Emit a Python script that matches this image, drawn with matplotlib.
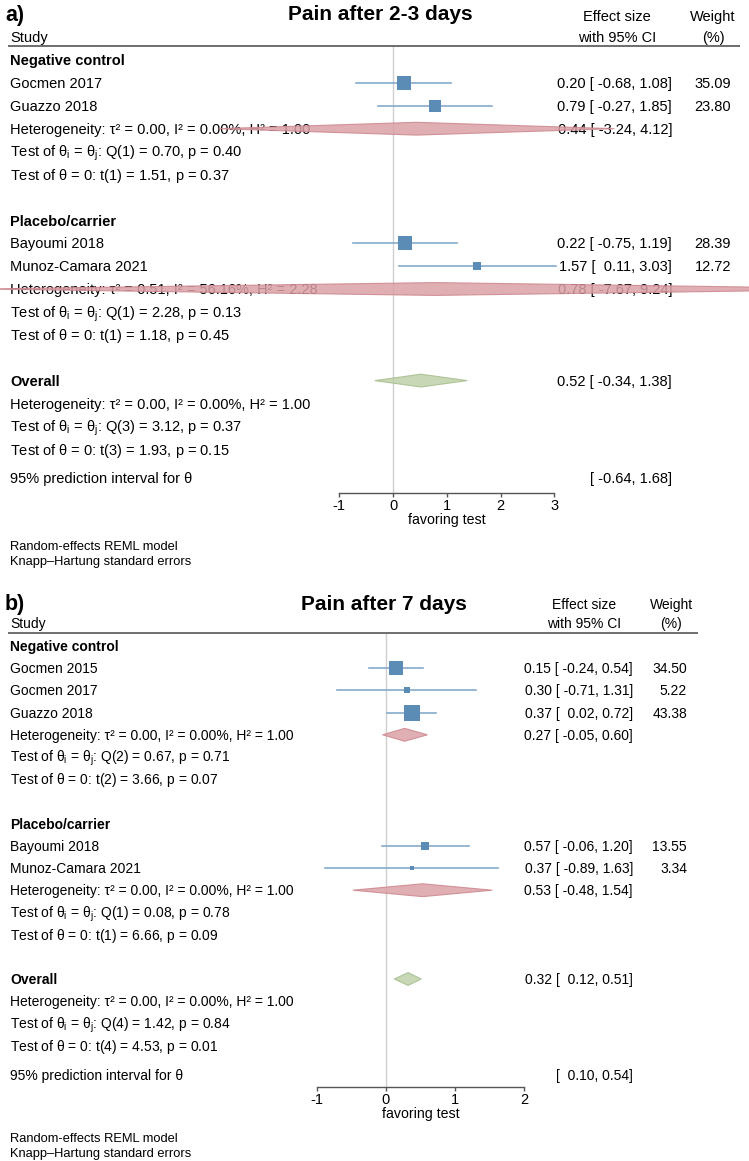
import numpy as np
import matplotlib.pyplot as plt

plt.rcParams['font.family'] = ['Liberation Sans', 'DejaVu Sans']
plt.rcParams['mathtext.fontset'] = 'custom'
plt.rcParams['mathtext.rm'] = 'Liberation Sans'
plt.rcParams['mathtext.it'] = 'Liberation Sans'
plt.rcParams['mathtext.bf'] = 'Liberation Sans:bold'

# ---------------- data: panel a (pain after 2-3 days) ----------------
a_groups = ["Negative control", "Placebo/carrier"]
a_studies = [["Gocmen 2017", "Guazzo 2018"], ["Bayoumi 2018", "Munoz-Camara 2021"]]
a_es = [[0.20, 0.79], [0.22, 1.57]]
a_lo = [[-0.68, -0.27], [-0.75, 0.11]]
a_hi = [[1.08, 1.85], [1.19, 3.03]]
a_wt = [[35.09, 23.80], [28.39, 12.72]]
a_sub_es = [0.44, 0.78]
a_sub_lo = [-3.24, -7.67]
a_sub_hi = [4.12, 9.24]
a_tau2 = [0.00, 0.51, 0.00]          # last = overall
a_i2 = [0.00, 56.16, 0.00]
a_h2 = [1.00, 2.28, 1.00]
a_qdf = [1, 1, 3]
a_q = [0.70, 2.28, 3.12]
a_qp = [0.40, 0.13, 0.37]
a_t = [1.51, 1.18, 1.93]
a_tp = [0.37, 0.45, 0.15]
a_all = [0.52, -0.34, 1.38]
a_pi = [-0.64, 1.68]
a_ticks = [-1, 0, 1, 2, 3]

# ---------------- data: panel b (pain after 7 days) ----------------
b_groups = ["Negative control", "Placebo/carrier"]
b_studies = [["Gocmen 2015", "Gocmen 2017", "Guazzo 2018"], ["Bayoumi 2018", "Munoz-Camara 2021"]]
b_es = [[0.15, 0.30, 0.37], [0.57, 0.37]]
b_lo = [[-0.24, -0.71, 0.02], [-0.06, -0.89]]
b_hi = [[0.54, 1.31, 0.72], [1.20, 1.63]]
b_wt = [[34.50, 5.22, 43.38], [13.55, 3.34]]
b_sub_es = [0.27, 0.53]
b_sub_lo = [-0.05, -0.48]
b_sub_hi = [0.60, 1.54]
b_tau2 = [0.00, 0.00, 0.00]
b_i2 = [0.00, 0.00, 0.00]
b_h2 = [1.00, 1.00, 1.00]
b_qdf = [2, 1, 4]
b_q = [0.67, 0.08, 1.42]
b_qp = [0.71, 0.78, 0.84]
b_t = [3.66, 6.66, 4.53]
b_tp = [0.07, 0.09, 0.01]
b_all = [0.32, 0.12, 0.51]
b_pi = [0.10, 0.54]
b_ticks = [-1, 0, 1, 2]

W, H = 749, 1161
fig = plt.figure(figsize=(W / 100, H / 100), dpi=100)

CI_COL = '#84aacb'
SQ_COL = '#5b8cb6'
RED_FILL, RED_EDGE = '#dba1a7', '#cc868d'
GRN_FILL, GRN_EDGE = '#bfd1a9', '#a6bd8c'


def fmt_ci(lo, hi):
    return f"[{lo:6.2f}, {hi:.2f}]"


def draw_panel(top, bot, lay, tag, title, groups, studies, es, lo, hi, wt,
               sub_es, sub_lo, sub_hi, tau2, i2, h2, qdf, q, qp, t, tp,
               overall, pi, ticks):
    ax = fig.add_axes([0, 1 - bot / H, 1, (bot - top) / H])
    x0, u = lay['zero'], lay['unit']
    r0, rh = lay['row0'], lay['row_h']
    ax.set_xlim(-x0 / u, (W - x0) / u)
    ax.set_ylim((bot - r0) / rh, (top - r0) / rh)
    ax.axis('off')
    row = lambda py: (py - r0) / rh
    tx = ax.get_yaxis_transform()
    fs = lay['fs']
    dh = lay['dh']

    def txt(px, r, s, **kw):
        size = kw.pop('fs', fs)
        ax.text(px / W, r + 0.36 * size * 100 / 72 / rh, s, transform=tx,
                fontsize=size, va='baseline', zorder=3, **kw)

    # header
    txt(5, row(lay['title_y']), tag, fs=15.5, weight='bold')
    txt(lay['title_x'], row(lay['title_y']), title, fs=15, weight='bold', ha='center')
    txt(lay['eff_c'], row(lay['h1_y']), "Effect size", ha='center')
    txt(lay['eff_c'], row(lay['h2_y']), "with 95% CI", ha='center')
    txt(lay['wt_c'], row(lay['h1_y']), "Weight", ha='center')
    txt(lay['wt_c'], row(lay['h2_y']), "(%)", ha='center')
    txt(10, row(lay['h2_y']), "Study")
    ax.plot([8 / W, lay['rule_end'] / W], [row(lay['rule_y'])] * 2, transform=tx,
            color='#555555', lw=1.2, solid_capstyle='butt')
    ax.vlines(0, row(lay['rule_y']), row(lay['axis_y']), color='#cfcfcf', lw=1, zorder=1)

    def het_rows(k, r):
        txt(10, r, f"Heterogeneity: τ² = {tau2[k]:.2f}, I² = {i2[k]:.2f}%, H² = {h2[k]:.2f}")
        txt(10, r + 1, r"Test of $\theta_\mathregular{i}$ = $\theta_\mathregular{j}$: "
            + f"Q({qdf[k]}) = {q[k]:.2f}, p = {qp[k]:.2f}")
        txt(10, r + 2, r"Test of $\theta$ = 0: " + f"t({qdf[k]}) = {t[k]:.2f}, p = {tp[k]:.2f}")

    def diamond(e, l, h, r, fc, ec):
        ax.fill([l, e, h, e], [r, r - dh, r, r + dh], facecolor=fc, edgecolor=ec,
                lw=0.8, alpha=0.85, zorder=4)

    def effect(e, l, h, r):
        txt(lay['eff_r'], r, f"{e:.2f} " + fmt_ci(l, h), ha='right')

    r = 0
    for g, name in enumerate(groups):
        txt(10, r, name, weight='bold')
        r += 1
        for j, s in enumerate(studies[g]):
            txt(10, r, s)
            ax.plot([lo[g][j], hi[g][j]], [r, r], color=CI_COL, lw=1.2, zorder=2)
            side = lay['k'] * np.sqrt(wt[g][j]) * 0.72
            ax.plot(es[g][j], r, marker='s', ms=side, color=SQ_COL, mec=SQ_COL,
                    mew=0, zorder=3)
            effect(es[g][j], lo[g][j], hi[g][j], r)
            txt(lay['wt_r'], r, f"{wt[g][j]:.2f}", ha='right')
            r += 1
        diamond(sub_es[g], sub_lo[g], sub_hi[g], r, RED_FILL, RED_EDGE)
        effect(sub_es[g], sub_lo[g], sub_hi[g], r)
        het_rows(g, r)
        r += 4

    txt(10, r, "Overall", weight='bold')
    diamond(overall[0], overall[1], overall[2], r, GRN_FILL, GRN_EDGE)
    effect(overall[0], overall[1], overall[2], r)
    het_rows(2, r + 1)
    r_pi = row(lay['pi_y'])
    txt(10, r_pi, "95% prediction interval for θ")
    txt(lay['eff_r'], r_pi, fmt_ci(pi[0], pi[1]), ha='right')

    # x axis
    lo_t, hi_t = ticks[0], ticks[-1]
    axx = fig.add_axes([(x0 + u * lo_t) / W, 1 - lay['axis_y'] / H,
                        u * (hi_t - lo_t) / W, 1e-4])
    axx.set_xlim(lo_t, hi_t)
    axx.set_facecolor('none')
    for sp in ['left', 'right', 'top']:
        axx.spines[sp].set_visible(False)
    axx.spines['bottom'].set_color('#555555')
    axx.spines['bottom'].set_linewidth(1.0)
    axx.set_yticks([])
    axx.set_xticks(ticks)
    axx.set_xticklabels([str(v) for v in ticks])
    axx.tick_params(axis='x', length=3, width=1.0, color='#555555', labelsize=10.5, pad=1.5)
    axx.set_xlabel("favoring test", fontsize=10.2, labelpad=0)

    fig.text(10 / W, 1 - lay['note_y'] / H, "Random-effects REML model",
             fontsize=9.3, va='center')
    fig.text(10 / W, 1 - (lay['note_y'] + 15) / H, "Knapp–Hartung standard errors",
             fontsize=9.3, va='center')


lay_a = dict(zero=393, unit=53.75, row0=60, row_h=22.9, fs=10.5, dh=0.28, k=2.45,
             title_x=380, title_y=13, h1_y=16, h2_y=37, rule_y=46, rule_end=740,
             eff_r=672, eff_c=617, wt_r=731, wt_c=713, pi_y=478, axis_y=493,
             note_y=547)
lay_b = dict(zero=386, unit=69.0, row0=646, row_h=22.2, fs=10.0, dh=0.29, k=2.35,
             title_x=384, title_y=602, h1_y=604, h2_y=623, rule_y=633, rule_end=698,
             eff_r=633, eff_c=584, wt_r=687, wt_c=671, pi_y=1075, axis_y=1087,
             note_y=1139)

draw_panel(0, 575, lay_a, "a)", "Pain after 2-3 days", a_groups, a_studies, a_es, a_lo,
           a_hi, a_wt, a_sub_es, a_sub_lo, a_sub_hi, a_tau2, a_i2, a_h2, a_qdf, a_q,
           a_qp, a_t, a_tp, a_all, a_pi, a_ticks)
draw_panel(575, 1161, lay_b, "b)", "Pain after 7 days", b_groups, b_studies, b_es, b_lo,
           b_hi, b_wt, b_sub_es, b_sub_lo, b_sub_hi, b_tau2, b_i2, b_h2, b_qdf, b_q,
           b_qp, b_t, b_tp, b_all, b_pi, b_ticks)

fig.savefig("out.png", dpi=100)
